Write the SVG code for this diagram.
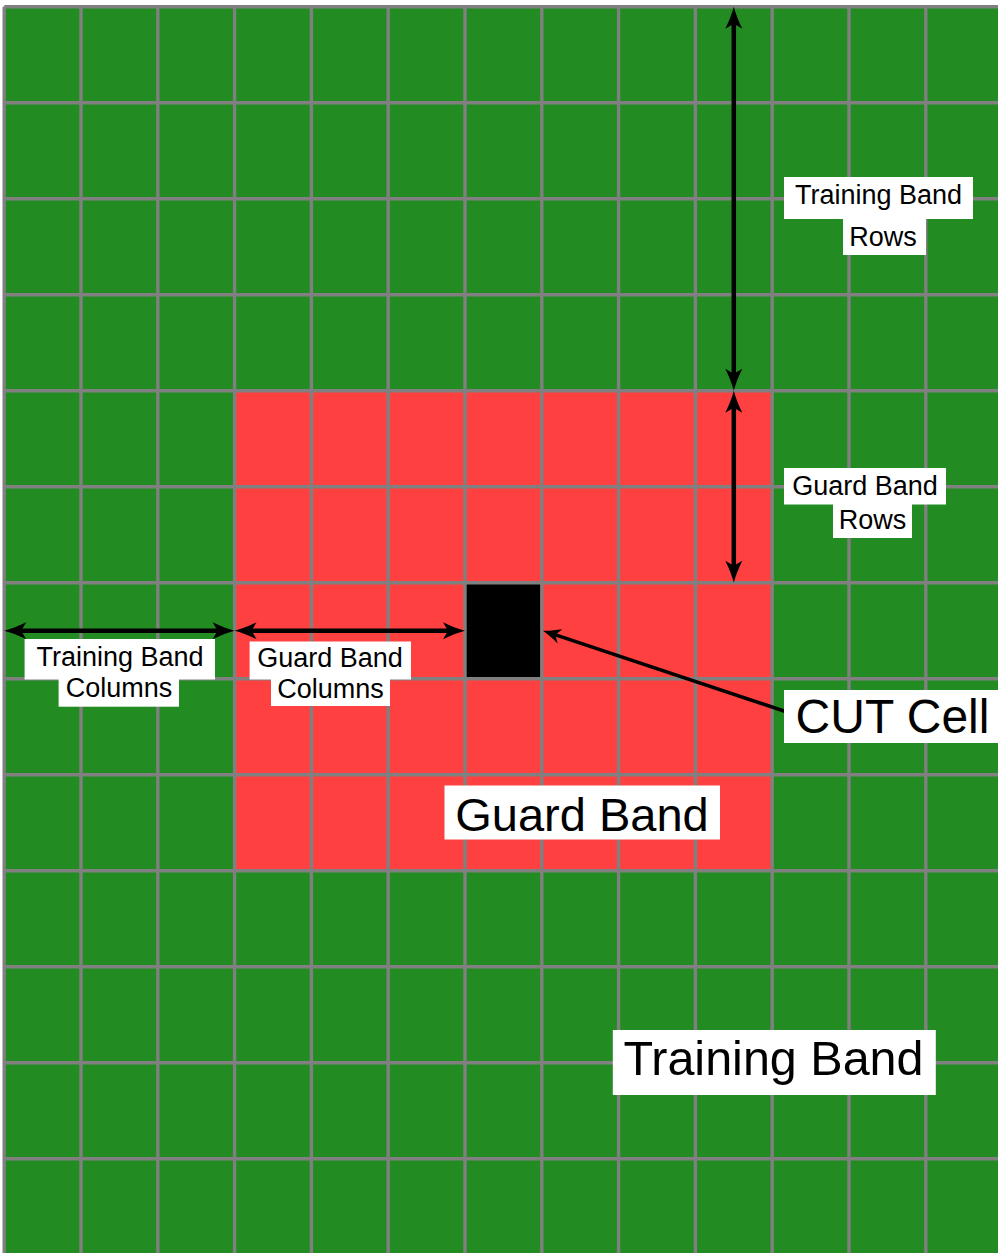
<svg xmlns="http://www.w3.org/2000/svg" width="998" height="1253" viewBox="0 0 998 1253">
<style>
.grid line{stroke:#808080;stroke-width:3.4}
.conn{stroke:#000;fill:none}
.lbl rect{fill:#fff}
.lbl text{font-family:"Liberation Sans",Arial,sans-serif;fill:#000;text-anchor:middle}
.s{font-size:27px}
.b{font-size:48px}
</style>
<defs>
<marker id="ah" viewBox="-14 -10 26 20" refX="0" refY="0" markerWidth="26" markerHeight="20" markerUnits="userSpaceOnUse" orient="auto-start-reverse">
<path d="M10,0 C4,-1.5 -4,-4.5 -12,-8.5 L-7,0 L-12,8.5 C-4,4.5 4,1.5 10,0 Z" fill="#000"/>
</marker>
<marker id="ahs" viewBox="-12 -9 22 18" refX="0" refY="0" markerWidth="22" markerHeight="18" markerUnits="userSpaceOnUse" orient="auto">
<path d="M7,0 C2,-1.3 -4,-4 -11,-7.5 L-6,0 L-11,7.5 C-4,4 2,1.3 7,0 Z" fill="#000"/>
</marker>
</defs>
<rect x="0" y="0" width="998" height="1253" fill="#fff"/>
<g id="training-band">
<rect x="4.2" y="6.7" width="994" height="1247" fill="#228B22"/>
</g>
<g id="guard-band">
<rect x="234.6" y="390.7" width="537.6" height="480" fill="#FF4040"/>
</g>
<g id="cut-cell">
<rect x="465" y="582.7" width="76.8" height="96" fill="#000"/>
</g>
<g class="grid" id="grid-lines">
<line x1="4.2" y1="6.7" x2="4.2" y2="1253"/>
<line x1="81" y1="6.7" x2="81" y2="1253"/>
<line x1="157.8" y1="6.7" x2="157.8" y2="1253"/>
<line x1="234.6" y1="6.7" x2="234.6" y2="1253"/>
<line x1="311.4" y1="6.7" x2="311.4" y2="1253"/>
<line x1="388.2" y1="6.7" x2="388.2" y2="1253"/>
<line x1="465" y1="6.7" x2="465" y2="1253"/>
<line x1="541.8" y1="6.7" x2="541.8" y2="1253"/>
<line x1="618.6" y1="6.7" x2="618.6" y2="1253"/>
<line x1="695.4" y1="6.7" x2="695.4" y2="1253"/>
<line x1="772.2" y1="6.7" x2="772.2" y2="1253"/>
<line x1="849" y1="6.7" x2="849" y2="1253"/>
<line x1="925.8" y1="6.7" x2="925.8" y2="1253"/>
<line x1="4.2" y1="6.7" x2="998" y2="6.7"/>
<line x1="4.2" y1="102.7" x2="998" y2="102.7"/>
<line x1="4.2" y1="198.7" x2="998" y2="198.7"/>
<line x1="4.2" y1="294.7" x2="998" y2="294.7"/>
<line x1="4.2" y1="390.7" x2="998" y2="390.7"/>
<line x1="4.2" y1="486.7" x2="998" y2="486.7"/>
<line x1="4.2" y1="582.7" x2="998" y2="582.7"/>
<line x1="4.2" y1="678.7" x2="998" y2="678.7"/>
<line x1="4.2" y1="774.7" x2="998" y2="774.7"/>
<line x1="4.2" y1="870.7" x2="998" y2="870.7"/>
<line x1="4.2" y1="966.7" x2="998" y2="966.7"/>
<line x1="4.2" y1="1062.7" x2="998" y2="1062.7"/>
<line x1="4.2" y1="1158.7" x2="998" y2="1158.7"/>
</g>
<g id="connectors">
<line class="conn" stroke-width="4.5" x1="733.8" y1="16.7" x2="733.8" y2="380.7" marker-start="url(#ah)" marker-end="url(#ah)"/>
<line class="conn" stroke-width="4.5" x1="733.8" y1="400.7" x2="733.8" y2="572.7" marker-start="url(#ah)" marker-end="url(#ah)"/>
<line class="conn" stroke-width="4.5" x1="14.2" y1="630.7" x2="224.6" y2="630.7" marker-start="url(#ah)" marker-end="url(#ah)"/>
<line class="conn" stroke-width="4.5" x1="244.6" y1="630.7" x2="455" y2="630.7" marker-start="url(#ah)" marker-end="url(#ah)"/>
<line class="conn" stroke-width="3.5" x1="790" y1="713" x2="549.6" y2="632.9" marker-end="url(#ahs)"/>
</g>
<g id="label-training-band-rows" class="lbl">
<rect x="784" y="177" width="189" height="42"/>
<rect x="843" y="218.5" width="83" height="36.5"/>
<text class="s" x="878.5" y="204">Training Band</text>
<text class="s" x="883" y="246">Rows</text>
</g>
<g id="label-guard-band-rows" class="lbl">
<rect x="784" y="468" width="162" height="36.5"/>
<rect x="833" y="504" width="79" height="34"/>
<text class="s" x="865" y="495">Guard Band</text>
<text class="s" x="872.5" y="529">Rows</text>
</g>
<g id="label-training-band-columns" class="lbl">
<rect x="24.6" y="639" width="190.4" height="40.5"/>
<rect x="58.6" y="679" width="120.4" height="27.7"/>
<text class="s" x="120" y="665.6">Training Band</text>
<text class="s" x="119" y="697.4">Columns</text>
</g>
<g id="label-guard-band-columns" class="lbl">
<rect x="249.6" y="641.5" width="161.4" height="38"/>
<rect x="271" y="679" width="119" height="27"/>
<text class="s" x="330" y="666.5">Guard Band</text>
<text class="s" x="330.5" y="698">Columns</text>
</g>
<g id="label-cut-cell" class="lbl">
<rect x="784" y="690" width="214" height="53"/>
<text class="b" x="892.5" y="733">CUT Cell</text>
</g>
<g id="label-guard-band" class="lbl">
<rect x="444.5" y="785.5" width="275.5" height="54"/>
<text style="font-size:47px" x="582" y="831">Guard Band</text>
</g>
<g id="label-training-band" class="lbl">
<rect x="612.8" y="1030" width="323" height="65"/>
<text style="font-size:48.5px" x="773.5" y="1075">Training Band</text>
</g>
</svg>
